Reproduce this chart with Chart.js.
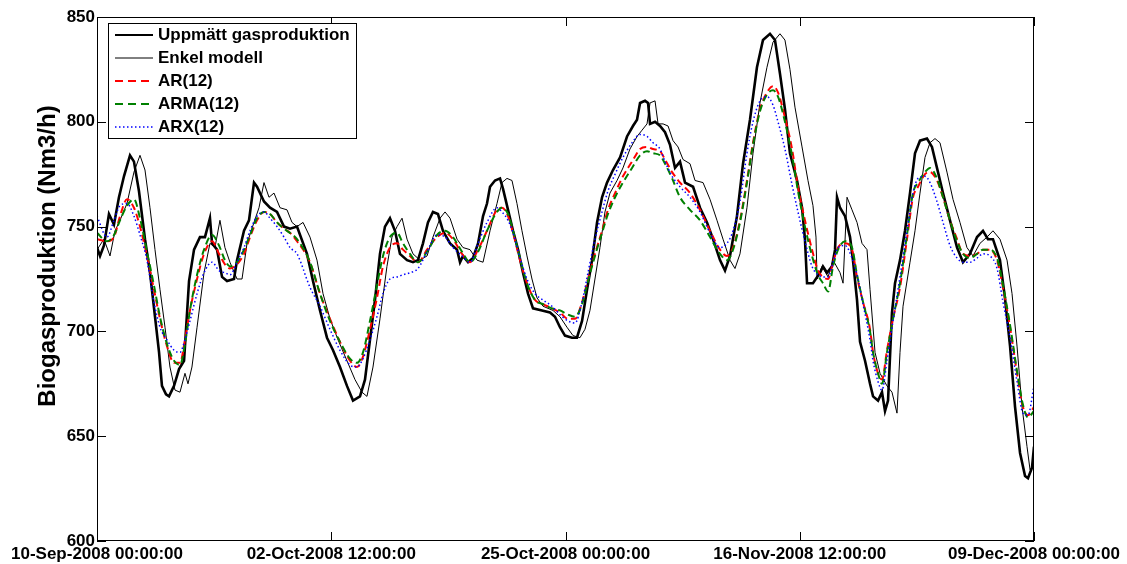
<!DOCTYPE html>
<html>
<head>
<meta charset="utf-8">
<script src="https://cdn.jsdelivr.net/npm/chart.js@4"></script>
<style>
  html, body { margin: 0; padding: 0; background: #fff; }
  #wrap { width: 1127px; height: 564px; }
</style>
</head>
<body>
<div id="wrap"><canvas id="chart"></canvas></div>
<script>
// x = days since 10-Sep-2008 00:00, y = Nm3/h
const xTickDays = [0, 22.5, 45, 67.5, 90]
const xTickLabels = ["10-Sep-2008 00:00:00", "02-Oct-2008 12:00:00", "25-Oct-2008 00:00:00", "16-Nov-2008 12:00:00", "09-Dec-2008 00:00:00"]
const seriesNames = ["Uppmätt gasproduktion", "Enkel modell", "AR(12)", "ARMA(12)", "ARX(12)"]
const yTitle = "Biogasproduktion (Nm3/h)"

const measDays = [0,0.29,0.67,1.15,1.63,2.11,2.59,3.17,3.55,4.03,4.61,5.09,5.57,5.96,6.24,6.63,6.92,7.20,7.40,7.88,8.36,8.84,9.32,9.89,10.37,10.85,11.05,11.53,12.01,12.49,13.16,13.45,14.12,14.60,15.08,15.37,16.04,16.62,17.29,17.96,18.54,19.21,20.17,20.75,21.42,22.09,22.67,23.34,24.01,24.59,25.26,25.74,26.22,26.70,27.18,27.66,28.14,28.62,29.10,29.78,30.35,30.83,31.31,31.79,32.27,32.75,33.23,33.91,34.58,34.87,35.15,35.64,36.12,36.60,37.08,37.46,37.75,38.23,38.71,39.00,39.48,39.96,40.44,40.92,41.40,41.88,42.74,43.51,43.99,44.47,44.95,45.62,46.10,46.59,47.07,47.55,48.03,48.51,48.99,49.56,50.24,50.91,51.48,51.87,52.16,52.64,52.93,53.12,53.60,54.08,54.56,55.04,55.52,56.00,56.48,57.25,57.92,58.59,59.17,59.84,60.32,60.80,61.47,62.05,62.72,63.39,63.97,64.64,65.12,65.60,66.08,66.56,67.24,67.72,68.00,68.20,68.77,69.45,69.73,70.12,70.60,70.89,71.08,71.37,71.85,72.33,72.61,73.00,73.29,73.77,74.25,74.54,75.02,75.40,75.69,75.98,76.36,76.65,77.13,77.61,78.09,78.57,79.05,79.72,80.20,80.68,81.26,81.93,82.61,83.18,83.85,84.53,85.10,85.58,86.06,86.73,87.21,87.70,88.18,88.66,89.14,89.42,89.81,90]
const measVals = [740,736,741,756,751,764,774,784,781,767,744,728,707,690,674,670,669,672,674,682,686,724,739,745,745,754,742,739,726,724,725,734,748,753,771,769,762,759,757,750,749,750,737,724,710,697,691,683,674,667,669,677,696,715,737,750,754,748,737,734,733,734,742,752,757,756,748,742,739,733,736,733,735,742,755,761,769,772,773,768,758,748,739,728,718,711,710,709,707,702,698,697,697,705,720,734,752,764,771,777,783,793,798,801,809,810,809,799,800,798,795,789,778,781,771,769,759,752,744,734,729,736,755,780,801,826,839,842,839,823,806,785,772,759,744,723,723,728,731,728,731,739,764,759,755,745,734,715,695,686,675,669,667,671,662,667,709,723,734,748,766,785,791,792,788,778,766,753,740,733,737,745,748,744,744,734,716,693,664,642,631,630,635,645]

const enkelDays = [0,0.67,1.25,1.73,2.21,2.88,3.55,4.13,4.61,5.09,5.57,6.05,6.53,7.01,7.49,7.97,8.45,8.74,9.12,9.61,10.28,10.85,11.33,11.81,12.29,12.77,13.45,13.93,14.41,15.08,15.56,16.04,16.52,17.00,17.58,18.25,18.73,19.21,19.79,20.46,21.13,21.71,22.38,23.15,24.01,24.78,25.45,25.93,26.51,27.18,27.85,28.33,28.82,29.30,29.78,30.35,31.02,31.70,32.27,32.95,33.43,33.91,34.58,35.15,35.83,36.50,37.08,37.75,38.42,38.90,39.38,39.86,40.34,40.82,41.30,41.78,42.26,42.84,43.80,44.47,45.14,45.72,46.39,46.87,47.35,47.83,48.31,48.79,49.27,49.95,50.52,51.19,51.87,52.35,52.83,53.12,53.60,53.89,54.37,54.85,55.33,55.81,56.29,56.96,57.44,58.21,58.88,59.55,60.13,60.80,61.28,61.76,62.43,63.01,63.68,64.35,64.93,65.60,66.08,66.56,67.04,67.72,68.29,68.77,69.06,69.16,69.64,70.22,70.70,71.37,71.66,72.04,72.52,73.00,73.48,73.96,74.25,74.73,75.21,75.88,76.36,76.84,77.13,77.42,78.09,78.57,79.05,79.53,80.01,80.49,80.97,81.64,82.22,82.89,83.56,84.14,84.81,85.49,86.06,86.73,87.41,87.89,88.37,88.85,89.33,89.62,90]
const enkelVals = [739,744,736,748,753,761,776,784,777,759,739,720,702,683,672,671,680,675,683,702,728,742,740,753,740,733,725,725,742,752,759,771,764,766,759,758,752,750,752,745,734,718,706,696,686,677,671,669,683,706,731,745,750,754,744,737,734,736,745,754,757,754,744,740,739,734,733,748,761,771,773,772,761,748,736,725,716,712,710,707,702,698,697,701,710,725,740,757,766,772,778,787,793,796,799,809,810,799,799,798,791,788,782,780,772,771,763,753,744,734,730,737,759,785,809,826,838,842,839,825,807,788,772,760,745,725,731,726,734,728,723,764,758,752,742,739,720,690,680,674,671,661,690,712,733,748,766,783,790,792,790,776,763,752,740,736,742,745,748,744,734,718,693,664,645,634,637]

const modelDays = [0,0.96,1.63,2.21,2.88,3.55,4.13,4.80,5.47,6.05,6.72,7.40,7.97,8.45,8.93,9.61,10.28,11.05,11.72,12.29,12.77,13.45,14.12,14.70,15.37,16.04,16.62,17.29,17.96,18.54,19.21,20.46,21.42,22.38,23.34,24.30,24.97,25.55,26.22,26.89,27.47,28.14,28.82,29.39,30.06,30.83,31.70,32.66,33.43,34.19,35.06,35.83,36.60,37.46,38.42,38.90,39.48,39.96,40.63,41.30,42.07,42.84,43.70,44.47,45.24,45.91,46.59,47.16,47.83,48.51,49.08,49.76,50.52,51.39,52.16,52.83,53.41,54.08,54.56,55.24,56.00,56.96,57.92,58.88,59.84,60.51,61.09,61.76,62.43,63.01,63.68,64.35,64.93,65.41,66.08,66.76,67.33,68.00,68.68,69.25,69.73,70.22,70.70,71.18,71.85,72.52,73.00,73.58,74.25,74.54,75.02,75.40,75.88,76.46,77.13,77.80,78.38,78.86,79.53,80.01,80.68,81.26,81.93,82.61,83.18,83.85,84.53,85.10,85.77,86.45,87.02,87.70,88.37,88.94,89.42,90]
const arVals = [744,743,745,755,763,759,750,736,720,706,693,685,685,696,710,725,737,743,737,732,730,732,737,745,753,757,756,752,749,747,743,733,718,706,695,686,683,688,701,716,731,740,742,739,736,733,739,745,747,744,737,733,739,748,758,759,755,747,734,723,715,713,711,709,706,706,714,725,737,748,758,766,774,781,787,788,787,786,782,776,771,766,758,748,739,736,740,753,772,790,806,814,817,814,802,787,769,753,739,729,726,725,733,740,742,739,726,714,701,690,680,677,691,706,721,744,764,769,775,776,772,764,753,744,737,736,737,739,739,734,721,702,680,664,660,664]
const armaVals = [747,743,746,753,760,763,754,738,722,707,694,686,684,694,710,727,739,746,741,734,731,733,739,746,754,757,756,752,749,747,744,733,718,705,695,687,685,690,705,722,736,745,747,742,737,733,738,746,748,745,738,733,738,748,757,759,756,748,735,723,715,713,711,710,708,707,713,724,736,747,756,764,771,778,784,786,785,784,780,773,764,758,753,745,737,734,739,752,771,789,805,813,815,812,800,784,767,750,736,727,723,719,731,739,743,740,727,714,700,690,680,675,690,706,723,746,766,771,776,778,773,764,753,743,737,735,737,739,739,735,722,703,681,665,659,662]
const arxVals = [755,745,753,760,761,755,746,734,714,702,696,691,690,696,705,718,728,733,729,728,727,733,740,748,755,757,754,750,745,740,737,721,712,701,691,684,683,687,696,707,718,725,726,727,728,730,738,746,745,740,736,733,742,752,759,757,753,747,735,725,718,715,712,708,705,704,714,728,744,757,767,775,783,790,794,793,790,787,781,774,769,764,757,747,740,742,748,762,785,800,810,812,808,800,787,770,757,743,731,727,726,726,733,740,741,735,727,713,696,686,676,672,686,705,726,748,766,773,774,771,762,752,741,735,733,733,735,737,736,730,714,697,676,661,660,674]

const pts = (xs, ys) => xs.map((x, i) => ({ x: x, y: ys[i] }))

const LABEL_FONT = '"Liberation Sans", Arial, sans-serif'

// MATLAB-style box, inward tick marks, y label and legend
const axesBox = {
  id: "axesBox",
  afterDatasetsDraw(chart) {
    const { ctx, chartArea: a, scales } = chart
    ctx.save()
    ctx.strokeStyle = "#000"
    ctx.lineWidth = 1
    ctx.strokeRect(a.left + 0.5, a.top + 0.5, a.right - a.left - 1, a.bottom - a.top - 1)
    ctx.beginPath()
    scales.y.ticks.forEach(t => {
      const y = Math.round(scales.y.getPixelForValue(t.value)) + 0.5
      ctx.moveTo(a.left, y); ctx.lineTo(a.left + 9, y)
      ctx.moveTo(a.right, y); ctx.lineTo(a.right - 9, y)
    })
    scales.x.ticks.forEach(t => {
      const x = Math.round(scales.x.getPixelForValue(t.value)) + 0.5
      ctx.moveTo(x, a.bottom); ctx.lineTo(x, a.bottom - 9)
      ctx.moveTo(x, a.top); ctx.lineTo(x, a.top + 9)
    })
    ctx.stroke()
    ctx.restore()
  },
  afterDraw(chart) {
    const { ctx, chartArea: a } = chart
    ctx.save()
    // y label, read bottom to top
    ctx.translate(55, 256)
    ctx.rotate(-Math.PI / 2)
    ctx.fillStyle = "#000"
    ctx.font = "bold 24px " + LABEL_FONT
    ctx.textAlign = "center"
    ctx.textBaseline = "alphabetic"
    ctx.fillText(yTitle, 0, 0)
    ctx.restore()

    const x0 = a.left + 11, y0 = a.top + 6, w = 248, h = 115
    ctx.save()
    ctx.fillStyle = "#fff"
    ctx.fillRect(x0, y0, w, h)
    ctx.strokeStyle = "#000"
    ctx.lineWidth = 1
    ctx.strokeRect(x0 + 0.5, y0 + 0.5, w, h)
    chart.data.datasets.forEach((ds, i) => {
      const y = y0 + 12 + i * 23
      ctx.beginPath()
      ctx.setLineDash(ds.legendDash || [])
      ctx.lineWidth = Math.min(ds.borderWidth, 2)
      ctx.strokeStyle = ds.borderColor
      ctx.moveTo(x0 + 7, y)
      ctx.lineTo(x0 + 45, y)
      ctx.stroke()
      ctx.setLineDash([])
      ctx.fillStyle = "#000"
      ctx.font = "bold 17px " + LABEL_FONT
      ctx.textBaseline = "middle"
      ctx.textAlign = "left"
      ctx.fillText(ds.label, x0 + 50, y)
    })
    ctx.restore()
  }
}

new Chart(document.getElementById("chart"), {
  type: "line",
  data: {
    datasets: [
      { label: seriesNames[0], data: pts(measDays, measVals), borderColor: "#000", borderWidth: 2.6, order: 4 },
      { label: seriesNames[1], data: pts(enkelDays, enkelVals), borderColor: "#000", borderWidth: 1, order: 3 },
      { label: seriesNames[2], data: pts(modelDays, arVals), borderColor: "#ff0000", borderWidth: 2, borderDash: [7, 4], legendDash: [8, 5], cubicInterpolationMode: "monotone", order: 2 },
      { label: seriesNames[3], data: pts(modelDays, armaVals), borderColor: "#008000", borderWidth: 2, borderDash: [7, 4], legendDash: [8, 5], cubicInterpolationMode: "monotone", order: 1 },
      { label: seriesNames[4], data: pts(modelDays, arxVals), borderColor: "#0000ff", borderWidth: 1.5, borderDash: [1.5, 2.5], legendDash: [1.5, 2.5], cubicInterpolationMode: "monotone", order: 0 }
    ]
  },
  options: {
    responsive: true,
    maintainAspectRatio: false,
    animation: false,
    devicePixelRatio: 1,
    elements: { point: { radius: 0 }, line: { fill: false } },
    layout: { padding: { top: 17, right: 93, left: 0, bottom: 0 } },
    plugins: { legend: { display: false }, tooltip: { enabled: false } },
    scales: {
      x: {
        type: "linear",
        min: 0,
        max: 90,
        afterBuildTicks: s => { s.ticks = xTickDays.map(v => ({ value: v })) },
        afterFit: s => { s.height = 23 },
        grid: { display: false, drawTicks: false },
        border: { display: false },
        ticks: {
          autoSkip: false,
          maxRotation: 0,
          padding: 3,
          color: "#000",
          font: { family: LABEL_FONT, size: 17, weight: "bold" },
          callback: (v, i) => xTickLabels[i]
        }
      },
      y: {
        min: 600,
        max: 850,
        afterFit: s => { s.width = 97 },
        grid: { display: false, drawTicks: false },
        border: { display: false },
        ticks: {
          stepSize: 50,
          padding: 2,
          color: "#000",
          font: { family: LABEL_FONT, size: 17, weight: "bold" }
        }
      }
    }
  },
  plugins: [axesBox]
})
</script>
</body>
</html>
